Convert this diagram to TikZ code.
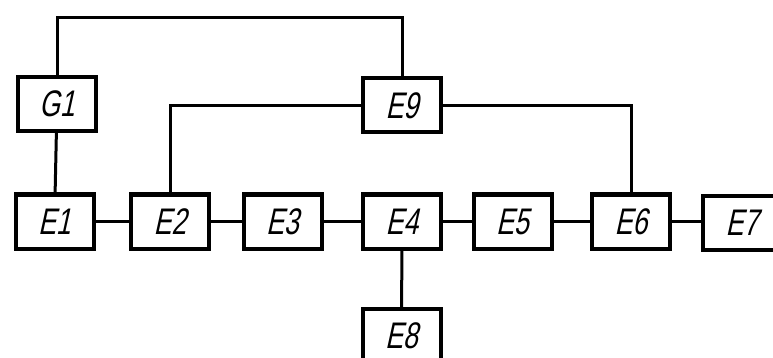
\documentclass[tikz,border=0pt]{standalone}
\usepackage{fontspec}
\newfontfamily\lab{Liberation Sans}[FakeStretch=0.72,FakeSlant=0.22]
\begin{document}
\begin{tikzpicture}[x=1pt,y=-1pt,
  blk/.style={draw, line width=4pt, minimum width=78pt, minimum height=54pt,
    inner sep=0pt, font=\lab\fontsize{37}{37}\selectfont},
  wire/.style={line width=3pt}]
\useasboundingbox (0,0) rectangle (773,358);
\node[blk] (G1) at (57,104) {G1};
\node[blk] (E9) at (402,105.5) {E9};
\node[blk] (E1) at (54.5,221.5) {E1};
\node[blk] (E2) at (170,221.5) {E2};
\node[blk] (E3) at (282.5,221.5) {E3};
\node[blk] (E4) at (402,221.5) {E4};
\node[blk] (E5) at (512.5,221.5) {E5};
\node[blk] (E6) at (631,221.5) {E6};
\node[blk] (E7) at (742,222.5) {E7};
\node[blk] (E8) at (401.5,336) {E8};
\coordinate (top) at (0,18);
\draw[wire] (G1.north) -- (G1.north |- top) -| (E9.north);
\draw[wire] (G1) -- (E1);
\draw[wire] (E9.west) -| (E2.north);
\draw[wire] (E9.east) -| (E6.north);
\draw[wire] (E1) -- (E2);
\draw[wire] (E2) -- (E3);
\draw[wire] (E3) -- (E4);
\draw[wire] (E4) -- (E5);
\draw[wire] (E5) -- (E6);
\draw[wire] (E6) -- (E7.west |- E6);
\draw[wire] (E4) -- (E8);
\end{tikzpicture}
\end{document}
